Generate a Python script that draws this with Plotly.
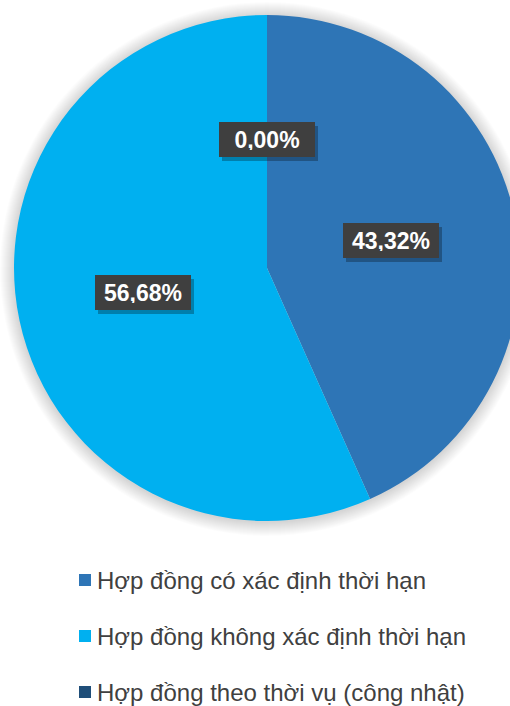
import math
import plotly.graph_objects as go

labels = ["Hợp đồng có xác định thời hạn", "Hợp đồng không xác định thời hạn", "Hợp đồng theo thời vụ (công nhật)"]
values = [43.32, 56.68, 0.00]
value_text = ["43,32%", "56,68%", "0,00%"]
colors = ["#2E75B6", "#00B0F0", "#1F4E79"]

W, H = 522, 706
CX, CY, R = 267, 268, 253

fig = go.Figure(go.Pie(
    labels=labels, values=values, sort=False, direction="clockwise", rotation=0,
    marker=dict(colors=colors, line=dict(width=0)),
    textinfo="none", hoverinfo="label+percent", showlegend=False,
    domain=dict(x=[(CX - R) / W, (CX + R) / W], y=[1 - (CY + R) / H, 1 - (CY - R) / H]),
))

shapes = []
# soft shadow around the pie
for k in range(14, 0, -1):
    rr = R + k
    shapes.append(dict(type="circle", xref="paper", yref="paper", layer="below",
                       x0=(CX - rr) / W, x1=(CX + rr) / W, y0=1 - (CY + 1 + rr) / H, y1=1 - (CY + 1 - rr) / H,
                       fillcolor="rgba(0,0,0,0.011)", line=dict(width=0)))

annotations = []
total = sum(values)
cum = 0.0
for v, t in zip(values, value_text):
    mid = (cum + v / 2) / total * 2 * math.pi
    cum += v
    px = CX + 0.5 * R * math.sin(mid)
    py = CY - 0.5 * R * math.cos(mid) - 1.5
    ax, ay = px / W, 1 - py / H
    common = dict(x=ax, y=ay, xref="paper", yref="paper", showarrow=False,
                  xanchor="center", yanchor="middle", width=82, height=21,
                  borderpad=7, borderwidth=0)
    annotations.append(dict(common, text=" ", bgcolor="rgba(0,0,0,0.28)", xshift=3, yshift=-4))
    annotations.append(dict(common, text="<b>" + t + "</b>", bgcolor="#3F3F3F",
                            font=dict(family="Liberation Sans, Arial", size=23, color="white")))

leg_y = [580, 636, 692]
for lab, col, yy in zip(labels, colors, leg_y):
    shapes.append(dict(type="rect", xref="paper", yref="paper", x0=79 / W, x1=91 / W,
                       y0=1 - (yy + 6) / H, y1=1 - (yy - 6) / H, fillcolor=col, line=dict(width=0)))
    annotations.append(dict(x=95 / W, y=1 - yy / H, xref="paper", yref="paper", showarrow=False,
                            xanchor="left", yanchor="middle", text=lab,
                            font=dict(family="Liberation Sans, Arial", size=24, color="#404040")))

fig.update_layout(width=W, height=H, margin=dict(l=0, r=0, t=0, b=0),
                  paper_bgcolor="white", plot_bgcolor="white",
                  annotations=annotations, shapes=shapes)

fig.write_html("out.html", config={"displayModeBar": False},
               post_script="document.body.style.margin='0';document.body.style.overflow='hidden';")
